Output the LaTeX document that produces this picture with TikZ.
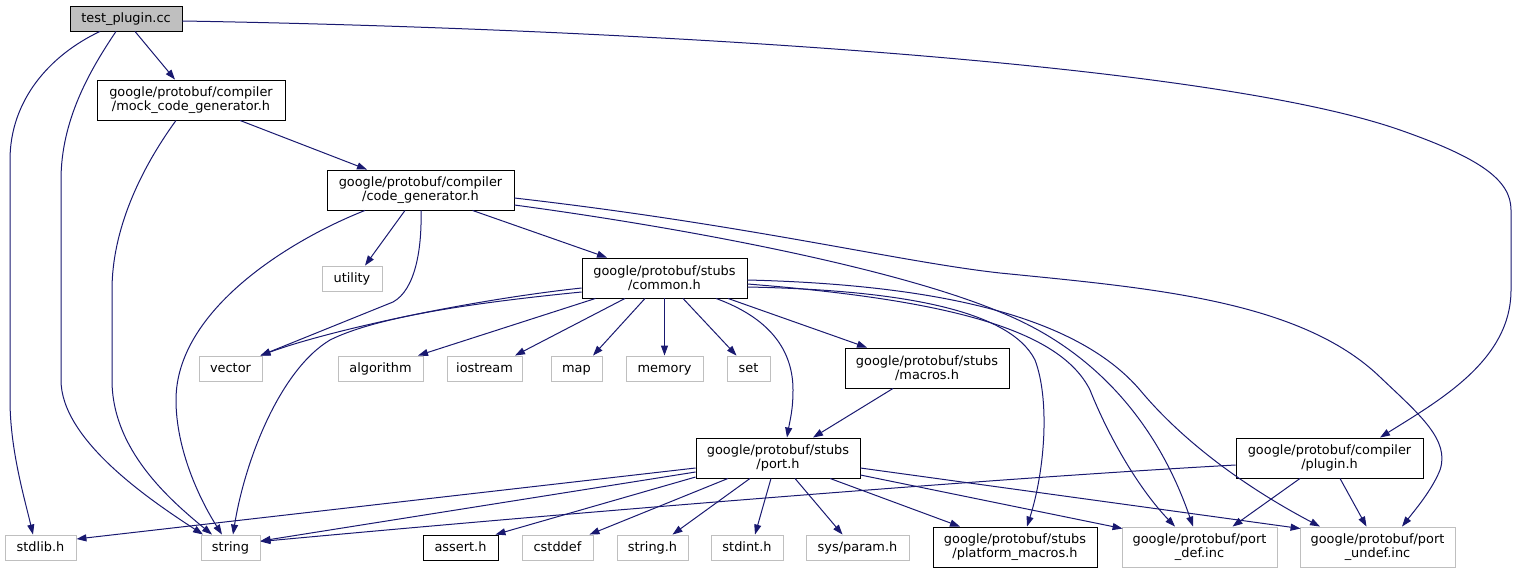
\documentclass[tikz,border=0pt]{standalone}
\usepackage{fontspec}
\setmainfont{DejaVu Sans}
\usetikzlibrary{arrows.meta}
\definecolor{edgecol}{HTML}{191970}
\definecolor{greyext}{HTML}{BFBFBF}
\tikzset{
  box/.style={draw=black, line width=0.9pt, rectangle, inner sep=0pt, align=center,
    font=\fontsize{12.9}{14.3}\selectfont, minimum height=25pt, text=black},
  single/.style={text height=10.5pt, text depth=2.5pt},
  dbl/.style={box, minimum height=40pt},
  ext/.style={box, single, draw=greyext},
  extdbl/.style={dbl, draw=greyext},
  root/.style={box, single, fill=greyext},
  dep/.style={draw=edgecol, line width=1pt, -{Triangle[length=10pt,width=7pt]}}
}
\begin{document}
\begin{tikzpicture}[x=1pt,y=-1pt]
\useasboundingbox (0,0) rectangle (1517,573);
% nodes
\node[root, minimum width=112pt] (tp) at (126,18.5) {test\_plugin.cc};
\node[dbl, minimum width=188pt] (mock) at (191,100) {google/protobuf/compiler\\/mock\_code\_generator.h};
\node[dbl, minimum width=187pt] (cg) at (420.5,190) {google/protobuf/compiler\\/code\_generator.h};
\node[ext, minimum width=60pt] (utility) at (352,278.5) {utility};
\node[dbl, minimum width=165pt] (common) at (664.5,278) {google/protobuf/stubs\\/common.h};
\node[ext, minimum width=63pt] (vector) at (230.5,368.5) {vector};
\node[ext, minimum width=85pt] (algorithm) at (380.5,368.5) {algorithm};
\node[ext, minimum width=75pt] (iostream) at (484.5,368.5) {iostream};
\node[ext, minimum width=51pt] (map) at (576.5,368.5) {map};
\node[ext, minimum width=77pt] (memory) at (664.5,368.5) {memory};
\node[ext, minimum width=43pt] (set) at (748.5,368.5) {set};
\node[dbl, minimum width=164pt] (macros) at (927,368) {google/protobuf/stubs\\/macros.h};
\node[dbl, minimum width=164pt] (port) at (778,458) {google/protobuf/stubs\\/port.h};
\node[dbl, minimum width=187pt] (plugin) at (1329.5,458) {google/protobuf/compiler\\/plugin.h};
\node[ext, minimum width=71pt] (stdlib) at (40.5,547.5) {stdlib.h};
\node[ext, minimum width=59pt] (string) at (230.5,547.5) {string};
\node[box, single, minimum width=75pt] (assert) at (460.5,547.5) {assert.h};
\node[ext, minimum width=71pt] (cstddef) at (557.5,547.5) {cstddef};
\node[ext, minimum width=71pt] (stringh) at (652.5,547.5) {string.h};
\node[ext, minimum width=72pt] (stdint) at (747,547.5) {stdint.h};
\node[ext, minimum width=103pt] (sysparam) at (857.5,547.5) {sys/param.h};
\node[dbl, minimum width=164pt] (platform) at (1015,547) {google/protobuf/stubs\\/platform\_macros.h};
\node[extdbl, minimum width=155pt] (portdef) at (1199.5,547) {google/protobuf/port\\\_def.inc};
\node[extdbl, minimum width=155pt] (portundef) at (1377.5,547) {google/protobuf/port\\\_undef.inc};

% edges from test_plugin.cc
\draw[dep] ([xshift=-26pt]tp.south) .. controls (50,55) and (10,100) .. (10,160) -- (10,400)
  .. controls (10,450) and (25,500) .. ([xshift=-7.5pt]stdlib.north);
\draw[dep] ([xshift=-10pt]tp.south) .. controls (90,70) and (61,120) .. (61,180) -- (61,380)
  .. controls (61,440) and (150,500) .. ([xshift=-27.5pt]string.north);
\draw[dep] ([xshift=9pt]tp.south) -- ([xshift=-16pt]mock.north);
\draw[dep] ([yshift=-2.5pt]tp.east) .. controls (600,28) and (1200,60) .. (1400,130)
  .. controls (1480,158) and (1511,180) .. (1511,210) -- (1511,290)
  .. controls (1511,360) and (1440,400) .. ([xshift=50.5pt]plugin.north);

% mock
\draw[dep] ([xshift=49pt]mock.south) -- ([xshift=-53.5pt]cg.north);
\draw[dep] ([xshift=-15pt]mock.south) .. controls (140,170) and (112,230) .. (112,290) -- (112,380)
  .. controls (112,450) and (170,500) .. ([xshift=-18.5pt]string.north);

% code_generator
\draw[dep] ([xshift=-55.5pt]cg.south) .. controls (290,240) and (176,310) .. (176,400)
  .. controls (176,450) and (200,500) .. ([xshift=-8.5pt]string.north);
\draw[dep] ([xshift=-15.5pt]cg.south) -- ([xshift=13pt]utility.north);
\draw[dep] ([xshift=0.5pt]cg.south) .. controls (422,250) and (415,290) .. (393,302)
  -- ([xshift=-2pt]vector.north east);
\draw[dep] ([xshift=52pt]cg.south) -- ([xshift=-57.5pt]common.north);
\draw[dep] ([yshift=-8pt]cg.east) .. controls (750,225) and (900,262) .. (1000,273)
  .. controls (1150,288) and (1300,300) .. (1380,377)
  .. controls (1420,415) and (1450,440) .. (1440,470)
  .. controls (1432,490) and (1415,510) .. ([xshift=24.5pt]portundef.north);
\draw[dep] ([yshift=-15pt]cg.east) .. controls (700,230) and (900,270) .. (1000,312)
  .. controls (1100,352) and (1160,430) .. ([xshift=-6.5pt]portdef.north);

% common.h
\draw[dep] ([yshift=-10pt]common.west) .. controls (470,300) and (330,330) .. ([xshift=-2pt]vector.north east);
\draw[dep] ([yshift=-14pt]common.west) .. controls (450,305) and (370,320) .. (330,340)
  .. controls (280,370) and (245,460) .. ([xshift=2.5pt]string.north);
\draw[dep] ([xshift=-69pt]common.south) -- ([xshift=37.5pt]algorithm.north);
\draw[dep] ([xshift=-39.5pt]common.south) -- ([xshift=30.5pt]iostream.north);
\draw[dep] ([xshift=-19.5pt]common.south) -- ([xshift=16.5pt]map.north);
\draw[dep] (common.south) -- (memory.north);
\draw[dep] ([xshift=18.5pt]common.south) -- ([xshift=-12pt]set.north);
\draw[dep] ([xshift=51.5pt]common.south) .. controls (775,320) and (793,355) .. (793,390)
  .. controls (793,410) and (790,420) .. ([xshift=9pt]port.north);
\draw[dep] ([xshift=63.5pt]common.south) -- ([xshift=-60pt]macros.north);
\draw[dep] ([yshift=-9pt]common.east) .. controls (900,290) and (1010,310) .. (1035,360)
  .. controls (1050,400) and (1045,470) .. ([xshift=12pt]platform.north);
\draw[dep] ([yshift=-6pt]common.east) .. controls (950,300) and (1060,330) .. (1090,390)
  .. controls (1110,440) and (1140,490) .. ([xshift=-24.5pt]portdef.north);
\draw[dep] ([yshift=-2pt]common.east) .. controls (950,285) and (1080,320) .. (1140,390)
  .. controls (1190,450) and (1260,495) .. ([xshift=-57.5pt]portundef.north);

% macros
\draw[dep] ([xshift=-34pt]macros.south) -- ([xshift=35pt]port.north);

% port.h
\draw[dep] ([yshift=-10pt]port.west) -- ([yshift=8.5pt]stdlib.east);
\draw[dep] ([yshift=-14pt]port.west) -- ([yshift=6.5pt]string.east);
\draw[dep] ([yshift=-19pt]port.west) -- ([xshift=-3pt]assert.north east);
\draw[dep] ([xshift=-50pt]port.south) -- ([xshift=32pt]cstddef.north);
\draw[dep] ([xshift=-28pt]port.south) -- ([xshift=20pt]stringh.north);
\draw[dep] ([xshift=-7pt]port.south) -- ([xshift=8pt]stdint.north);
\draw[dep] ([xshift=17pt]port.south) -- ([xshift=-15pt]sysparam.north);
\draw[dep] ([xshift=52pt]port.south) -- ([xshift=-55pt]platform.north);
\draw[dep] ([yshift=-17pt]port.east) -- ([xshift=1pt,yshift=-2pt]portdef.north west);
\draw[dep] ([yshift=-10pt]port.east) -- ([xshift=1pt,yshift=-2pt]portundef.north west);

% plugin.h
\draw[dep] ([yshift=-7pt]plugin.west) .. controls (1000,478) and (600,510) .. ([yshift=6pt]string.east);
\draw[dep] ([xshift=-29.5pt]plugin.south) -- ([xshift=33pt]portdef.north);
\draw[dep] ([xshift=10.5pt]plugin.south) -- ([xshift=-11pt]portundef.north);
\end{tikzpicture}
\end{document}
